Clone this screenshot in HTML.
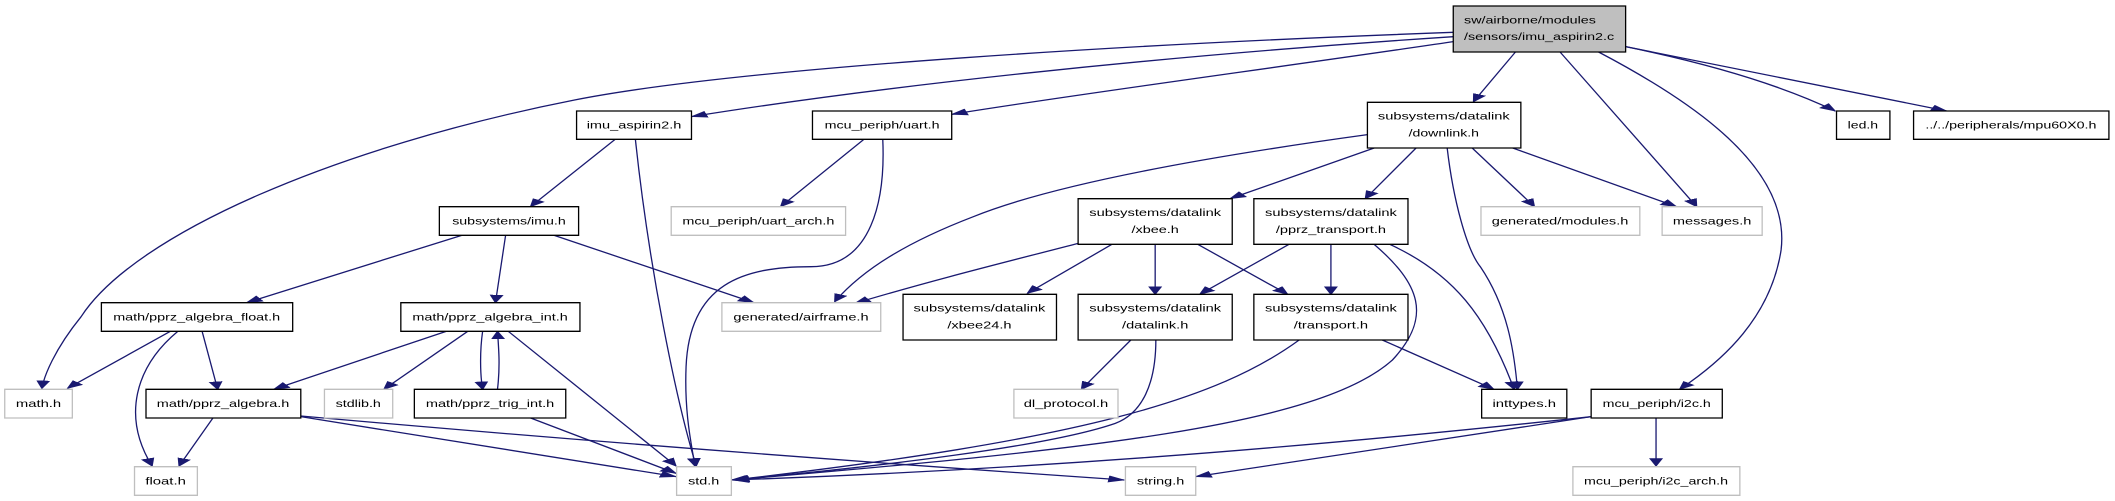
<!DOCTYPE html>
<html><head><meta charset="utf-8"><style>html,body{margin:0;padding:0;background:#fff;overflow:hidden}svg{display:block}</style></head>
<body>
<svg width="2115" height="501" viewBox="0 0 3129 1503" preserveAspectRatio="none" xmlns="http://www.w3.org/2000/svg">
<defs>
<marker id="a" viewBox="0 0 10 10" refX="9" refY="5" markerWidth="26" markerHeight="26" markerUnits="userSpaceOnUse" orient="auto">
<path d="M0,1 L10,5 L0,9 z" fill="#191970"/></marker>
</defs>
<g fill="none" stroke="#191970" stroke-width="1.3" marker-end="url(#a)">
<path vector-effect="non-scaling-stroke" d="M2150,97 C1700,130 1100,200 850,300 C500,440 200,700 120,950 C80,1050 65,1130 62,1165"/>
<path vector-effect="non-scaling-stroke" d="M2150,110 C1700,170 1300,260 1023,350"/>
<path vector-effect="non-scaling-stroke" d="M2150,125 C1900,200 1600,280 1408,343"/>
<path vector-effect="non-scaling-stroke" d="M2242,156 L2180,305"/>
<path vector-effect="non-scaling-stroke" d="M2308,156 L2510,620"/>
<path vector-effect="non-scaling-stroke" d="M2365,156 C2500,300 2650,500 2635,750 C2620,950 2550,1080 2485,1168"/>
<path vector-effect="non-scaling-stroke" d="M2405,140 C2550,200 2650,270 2715,333"/>
<path vector-effect="non-scaling-stroke" d="M2405,140 L2880,333"/>
<path vector-effect="non-scaling-stroke" d="M910,418 L785,620"/>
<path vector-effect="non-scaling-stroke" d="M940,418 C960,800 1000,1200 1030,1398"/>
<path vector-effect="non-scaling-stroke" d="M1278,418 L1155,620"/>
<path vector-effect="non-scaling-stroke" d="M1306,418 C1310,600 1290,800 1200,800 C1100,800 1020,850 1015,1100 C1012,1250 1025,1350 1028,1398"/>
<path vector-effect="non-scaling-stroke" d="M683,706 L365,908"/>
<path vector-effect="non-scaling-stroke" d="M748,706 L733,908"/>
<path vector-effect="non-scaling-stroke" d="M820,706 L1115,908"/>
<path vector-effect="non-scaling-stroke" d="M252,994 L100,1165"/>
<path vector-effect="non-scaling-stroke" d="M263,994 C200,1100 180,1250 225,1398"/>
<path vector-effect="non-scaling-stroke" d="M299,994 L322,1168"/>
<path vector-effect="non-scaling-stroke" d="M660,994 L405,1168"/>
<path vector-effect="non-scaling-stroke" d="M692,994 L568,1168"/>
<path vector-effect="non-scaling-stroke" d="M714,994 C710,1050 710,1120 714,1168"/>
<path vector-effect="non-scaling-stroke" d="M736,1168 C740,1100 738,1050 736,994"/>
<path vector-effect="non-scaling-stroke" d="M752,994 L1000,1398"/>
<path vector-effect="non-scaling-stroke" d="M315,1254 L265,1398"/>
<path vector-effect="non-scaling-stroke" d="M445,1250 L1000,1430"/>
<path vector-effect="non-scaling-stroke" d="M445,1248 C900,1330 1300,1390 1663,1440"/>
<path vector-effect="non-scaling-stroke" d="M785,1254 L1000,1420"/>
<path vector-effect="non-scaling-stroke" d="M2023,404 C1750,480 1550,560 1440,650 C1350,720 1280,800 1235,905"/>
<path vector-effect="non-scaling-stroke" d="M2033,444 L1820,596"/>
<path vector-effect="non-scaling-stroke" d="M2095,444 L2020,596"/>
<path vector-effect="non-scaling-stroke" d="M2141,444 C2150,600 2170,750 2190,800 C2230,920 2240,1050 2245,1168"/>
<path vector-effect="non-scaling-stroke" d="M2178,444 L2270,620"/>
<path vector-effect="non-scaling-stroke" d="M2238,444 L2480,620"/>
<path vector-effect="non-scaling-stroke" d="M1595,730 C1500,780 1380,840 1265,910"/>
<path vector-effect="non-scaling-stroke" d="M1645,733 L1520,880"/>
<path vector-effect="non-scaling-stroke" d="M1709,733 L1709,883"/>
<path vector-effect="non-scaling-stroke" d="M1772,733 L1905,883"/>
<path vector-effect="non-scaling-stroke" d="M1907,733 L1775,883"/>
<path vector-effect="non-scaling-stroke" d="M1969,733 L1969,883"/>
<path vector-effect="non-scaling-stroke" d="M2033,733 C2100,850 2120,950 2060,1080 C1950,1280 1600,1350 1085,1440"/>
<path vector-effect="non-scaling-stroke" d="M2056,733 C2150,820 2200,950 2240,1168"/>
<path vector-effect="non-scaling-stroke" d="M1673,1020 L1600,1168"/>
<path vector-effect="non-scaling-stroke" d="M1710,1020 C1710,1150 1690,1240 1650,1270 C1550,1340 1300,1400 1082,1440"/>
<path vector-effect="non-scaling-stroke" d="M1922,1020 C1800,1200 1600,1320 1085,1440"/>
<path vector-effect="non-scaling-stroke" d="M2045,1020 L2210,1168"/>
<path vector-effect="non-scaling-stroke" d="M2354,1250 C1900,1350 1500,1410 1085,1440"/>
<path vector-effect="non-scaling-stroke" d="M2354,1250 L1769,1430"/>
<path vector-effect="non-scaling-stroke" d="M2450,1254 L2450,1398"/>
</g>
<g stroke-width="1.3" font-family="Liberation Sans, sans-serif" font-size="30" text-anchor="middle">
<g fill="#fff" stroke="#000">
<rect vector-effect="non-scaling-stroke" x="853" y="333" width="170" height="85"/>
<rect vector-effect="non-scaling-stroke" x="1202" y="333" width="206" height="85"/>
<rect vector-effect="non-scaling-stroke" x="650" y="620" width="206" height="86"/>
<rect vector-effect="non-scaling-stroke" x="150" y="908" width="283" height="86"/>
<rect vector-effect="non-scaling-stroke" x="593" y="908" width="265" height="86"/>
<rect vector-effect="non-scaling-stroke" x="1336" y="883" width="227" height="137"/>
<rect vector-effect="non-scaling-stroke" x="216" y="1168" width="229" height="86"/>
<rect vector-effect="non-scaling-stroke" x="613" y="1168" width="224" height="86"/>
<rect vector-effect="non-scaling-stroke" x="2023" y="307" width="227" height="137"/>
<rect vector-effect="non-scaling-stroke" x="1595" y="596" width="228" height="137"/>
<rect vector-effect="non-scaling-stroke" x="1855" y="596" width="228" height="137"/>
<rect vector-effect="non-scaling-stroke" x="2717" y="333" width="79" height="85"/>
<rect vector-effect="non-scaling-stroke" x="2831" y="333" width="289" height="85"/>
<rect vector-effect="non-scaling-stroke" x="1595" y="883" width="228" height="137"/>
<rect vector-effect="non-scaling-stroke" x="1855" y="883" width="228" height="137"/>
<rect vector-effect="non-scaling-stroke" x="2192" y="1168" width="126" height="86"/>
<rect vector-effect="non-scaling-stroke" x="2354" y="1168" width="194" height="86"/>
<rect vector-effect="non-scaling-stroke" x="2150" y="18" width="255" height="138" fill="#bfbfbf"/>
</g>
<g fill="#fff" stroke="#bfbfbf">
<rect vector-effect="non-scaling-stroke" x="993" y="620" width="258" height="86"/>
<rect vector-effect="non-scaling-stroke" x="1068" y="908" width="235" height="86"/>
<rect vector-effect="non-scaling-stroke" x="7" y="1168" width="100" height="86"/>
<rect vector-effect="non-scaling-stroke" x="480" y="1168" width="101" height="86"/>
<rect vector-effect="non-scaling-stroke" x="1500" y="1168" width="154" height="86"/>
<rect vector-effect="non-scaling-stroke" x="199" y="1400" width="93" height="86"/>
<rect vector-effect="non-scaling-stroke" x="1001" y="1400" width="81" height="86"/>
<rect vector-effect="non-scaling-stroke" x="2191" y="620" width="235" height="86"/>
<rect vector-effect="non-scaling-stroke" x="2459" y="620" width="148" height="86"/>
<rect vector-effect="non-scaling-stroke" x="1665" y="1400" width="104" height="86"/>
<rect vector-effect="non-scaling-stroke" x="2327" y="1400" width="247" height="86"/>
</g>
<g fill="#000" lengthAdjust="spacingAndGlyphs">
<text x="938" y="386" textLength="140" lengthAdjust="spacingAndGlyphs">imu_aspirin2.h</text>
<text x="1305" y="386" textLength="170" lengthAdjust="spacingAndGlyphs">mcu_periph/uart.h</text>
<text x="753" y="673" textLength="168" lengthAdjust="spacingAndGlyphs">subsystems/imu.h</text>
<text x="1122" y="673" textLength="225" lengthAdjust="spacingAndGlyphs">mcu_periph/uart_arch.h</text>
<text x="291" y="961" textLength="247" lengthAdjust="spacingAndGlyphs">math/pprz_algebra_float.h</text>
<text x="725" y="961" textLength="230" lengthAdjust="spacingAndGlyphs">math/pprz_algebra_int.h</text>
<text x="1185" y="961" textLength="200" lengthAdjust="spacingAndGlyphs">generated/airframe.h</text>
<text x="1449" y="935" textLength="195" lengthAdjust="spacingAndGlyphs">subsystems/datalink</text><text x="1449" y="986" textLength="95" lengthAdjust="spacingAndGlyphs">/xbee24.h</text>
<text x="57" y="1221" textLength="67" lengthAdjust="spacingAndGlyphs">math.h</text>
<text x="330" y="1221" textLength="196" lengthAdjust="spacingAndGlyphs">math/pprz_algebra.h</text>
<text x="530" y="1221" textLength="67" lengthAdjust="spacingAndGlyphs">stdlib.h</text>
<text x="725" y="1221" textLength="190" lengthAdjust="spacingAndGlyphs">math/pprz_trig_int.h</text>
<text x="1577" y="1221" textLength="125" lengthAdjust="spacingAndGlyphs">dl_protocol.h</text>
<text x="245" y="1453" textLength="60" lengthAdjust="spacingAndGlyphs">float.h</text>
<text x="1041" y="1453" textLength="46" lengthAdjust="spacingAndGlyphs">std.h</text>
<text x="2166" y="70" text-anchor="start" textLength="195" lengthAdjust="spacingAndGlyphs">sw/airborne/modules</text>
<text x="2166" y="120" text-anchor="start" textLength="222" lengthAdjust="spacingAndGlyphs">/sensors/imu_aspirin2.c</text>
<text x="2136" y="359" textLength="195" lengthAdjust="spacingAndGlyphs">subsystems/datalink</text><text x="2136" y="410" textLength="104" lengthAdjust="spacingAndGlyphs">/downlink.h</text>
<text x="1709" y="648" textLength="195" lengthAdjust="spacingAndGlyphs">subsystems/datalink</text><text x="1709" y="699" textLength="70" lengthAdjust="spacingAndGlyphs">/xbee.h</text>
<text x="1969" y="648" textLength="195" lengthAdjust="spacingAndGlyphs">subsystems/datalink</text><text x="1969" y="699" textLength="163" lengthAdjust="spacingAndGlyphs">/pprz_transport.h</text>
<text x="2308" y="673" textLength="202" lengthAdjust="spacingAndGlyphs">generated/modules.h</text>
<text x="2533" y="673" textLength="116" lengthAdjust="spacingAndGlyphs">messages.h</text>
<text x="2756" y="386" textLength="45" lengthAdjust="spacingAndGlyphs">led.h</text>
<text x="2975" y="386" textLength="253" lengthAdjust="spacingAndGlyphs">../../peripherals/mpu60X0.h</text>
<text x="1709" y="935" textLength="195" lengthAdjust="spacingAndGlyphs">subsystems/datalink</text><text x="1709" y="986" textLength="98" lengthAdjust="spacingAndGlyphs">/datalink.h</text>
<text x="1969" y="935" textLength="195" lengthAdjust="spacingAndGlyphs">subsystems/datalink</text><text x="1969" y="986" textLength="110" lengthAdjust="spacingAndGlyphs">/transport.h</text>
<text x="2255" y="1221" textLength="94" lengthAdjust="spacingAndGlyphs">inttypes.h</text>
<text x="2451" y="1221" textLength="160" lengthAdjust="spacingAndGlyphs">mcu_periph/i2c.h</text>
<text x="1717" y="1453" textLength="70" lengthAdjust="spacingAndGlyphs">string.h</text>
<text x="2450" y="1453" textLength="213" lengthAdjust="spacingAndGlyphs">mcu_periph/i2c_arch.h</text>
</g>
</g>
</svg>
</body></html>
